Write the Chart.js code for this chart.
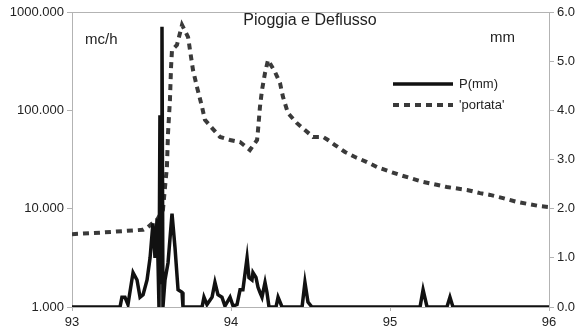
<!DOCTYPE html>
<html>
<head>
<meta charset="utf-8">
<script src="https://cdn.jsdelivr.net/npm/chart.js@4.4.1/dist/chart.umd.min.js"></script>
<style>
  html, body { margin: 0; padding: 0; background: #fff; }
  #wrap { width: 579px; height: 332px; }
</style>
</head>
<body>
<div id="wrap"><canvas id="grafico"></canvas></div>
<script>
'use strict';

// Pioggia (mm) - asse destro
const pioggiaX = [93.000, 93.302, 93.314, 93.333, 93.352, 93.384, 93.409, 93.428, 93.447, 93.472,
  93.491, 93.509, 93.522, 93.535, 93.547, 93.553, 93.560, 93.566, 93.572, 93.585,
  93.604, 93.629, 93.648, 93.667, 93.692, 93.698, 93.818, 93.830, 93.849, 93.881,
  93.899, 93.918, 93.943, 93.962, 93.994, 94.013, 94.038, 94.057, 94.075, 94.101,
  94.113, 94.132, 94.138, 94.157, 94.170, 94.182, 94.195, 94.214, 94.226, 94.239,
  94.283, 94.296, 94.321, 94.447, 94.465, 94.484, 94.509, 95.189, 95.208, 95.233,
  95.358, 95.377, 95.396, 96.000];
const pioggiaMm = [0, 0, 0.2, 0.2, 0.05, 0.7, 0.55, 0.2, 0.25, 0.55,
  1.0, 1.7, 1.0, 1.8, 0.0, 3.9, 0.5, 5.7, 0.0, 0.55,
  0.9, 1.9, 1.2, 0.35, 0.3, 0, 0, 0.2, 0.05, 0.2,
  0.5, 0.25, 0.2, 0.02, 0.2, 0.02, 0.05, 0.35, 0.35, 1.0,
  0.6, 0.55, 0.7, 0.6, 0.4, 0.3, 0.2, 0.5, 0.3, 0,
  0, 0.2, 0, 0, 0.5, 0.1, 0, 0, 0.35, 0,
  0, 0.2, 0, 0];

// Portata (mc/h) - asse sinistro logaritmico
const portataX = [93.000, 93.176, 93.447, 93.478, 93.509, 93.535, 93.572, 93.585, 93.597, 93.604,
  93.616, 93.623, 93.629, 93.660, 93.692, 93.730, 93.742, 93.761, 93.786, 93.818,
  93.836, 93.881, 93.931, 93.994, 94.057, 94.119, 94.164, 94.170, 94.182, 94.195,
  94.214, 94.233, 94.277, 94.308, 94.327, 94.358, 94.415, 94.465, 94.516, 94.579,
  94.610, 94.654, 94.717, 94.780, 94.855, 94.918, 94.987, 95.063, 95.126, 95.208,
  95.270, 95.358, 95.484, 95.566, 95.629, 95.711, 95.799, 95.862, 95.943, 96.000];
const portataMch = [5.5, 5.7, 6.1, 6.5, 7.2, 7.7, 9.7, 16.6, 26.5, 59,
  127, 276, 411, 462, 738, 557, 411, 257, 173, 108,
  80, 66, 53.6, 49.9, 47.6, 39.5, 49.9, 63, 108, 161,
  240, 325, 245, 190, 137, 94, 74, 63, 53.6, 53.6,
  49.9, 44.4, 37.7, 33.5, 29.8, 26.5, 24.2, 22.0, 20.5, 18.7,
  17.8, 16.6, 15.5, 14.4, 13.8, 12.8, 11.7, 11.2, 10.6, 10.4];

const tickSinistra = [1, 10, 100, 1000];
const tickDestra = [0, 1, 2, 3, 4, 5, 6];
const tickX = [93, 94, 95, 96];

const FONT = '"Liberation Sans", Arial, sans-serif';
const GRIGIO = '#b3b3b3';
const TESTO = '#222222';

const punti = (xs, ys) => xs.map((x, i) => ({ x, y: ys[i] }));

// Titolo, unità e legenda disegnati dentro l'area del grafico
const decorazioni = {
  id: 'decorazioni',
  afterDraw(chart) {
    const { ctx, chartArea: a } = chart;
    ctx.save();
    ctx.strokeStyle = GRIGIO;
    ctx.lineWidth = 1;
    ctx.beginPath();
    ctx.moveTo(a.left, a.top + 0.5);
    ctx.lineTo(a.right, a.top + 0.5);
    ctx.stroke();

    ctx.fillStyle = TESTO;
    ctx.textBaseline = 'middle';
    ctx.font = '16px ' + FONT;
    ctx.textAlign = 'center';
    ctx.fillText('Pioggia e Deflusso', 310, 21);
    ctx.font = '15px ' + FONT;
    ctx.textAlign = 'left';
    ctx.fillText('mc/h', 85, 40);
    ctx.fillText('mm', 490, 38);

    ctx.font = '13px ' + FONT;
    chart.data.datasets.forEach((ds, i) => {
      const y = 84 + i * 21;
      ctx.strokeStyle = ds.borderColor;
      ctx.lineWidth = ds.borderWidth;
      ctx.setLineDash(ds.borderDash || []);
      ctx.beginPath();
      ctx.moveTo(393, y);
      ctx.lineTo(453, y);
      ctx.stroke();
      ctx.setLineDash([]);
      ctx.fillStyle = TESTO;
      ctx.fillText(ds.label, 459, y);
    });
    ctx.restore();
  }
};

new Chart(document.getElementById('grafico'), {
  type: 'line',
  data: {
    datasets: [{
      label: 'P(mm)',
      data: punti(pioggiaX, pioggiaMm),
      yAxisID: 'yR',
      borderColor: '#111111',
      borderWidth: 3.5,
      pointRadius: 0,
      tension: 0,
      order: 0
    },
    {
      label: "'portata'",
      data: punti(portataX, portataMch),
      yAxisID: 'yL',
      borderColor: '#3a3a3a',
      borderWidth: 4,
      borderDash: [6, 5],
      pointRadius: 0,
      tension: 0,
      order: 1
    }]
  },
  options: {
    responsive: true,
    maintainAspectRatio: false,
    animation: false,
    layout: { padding: { top: 12, left: 0, right: 0, bottom: 0 } },
    plugins: { legend: { display: false }, tooltip: { enabled: false } },
    scales: {
      x: {
        type: 'linear',
        min: 93,
        max: 96,
        afterBuildTicks: s => { s.ticks = tickX.map(v => ({ value: v })); },
        afterFit: s => { s.height = 25; },
        ticks: { color: TESTO, font: { family: FONT, size: 13 }, padding: 4, callback: v => String(v) },
        grid: { drawOnChartArea: false, color: GRIGIO, tickLength: 4 },
        border: { color: GRIGIO }
      },
      yL: {
        type: 'logarithmic',
        position: 'left',
        min: 1,
        max: 1000,
        afterBuildTicks: s => { s.ticks = tickSinistra.map(v => ({ value: v })); },
        afterFit: s => { s.width = 72; },
        ticks: { color: TESTO, font: { family: FONT, size: 13 }, padding: 3, callback: v => Number(v).toFixed(3) },
        grid: { drawOnChartArea: false, color: GRIGIO, tickLength: 5 },
        border: { color: GRIGIO }
      },
      yR: {
        type: 'linear',
        position: 'right',
        min: 0,
        max: 6,
        afterBuildTicks: s => { s.ticks = tickDestra.map(v => ({ value: v })); },
        afterFit: s => { s.width = 30; },
        ticks: { color: TESTO, font: { family: FONT, size: 13 }, padding: 3, callback: v => Number(v).toFixed(1) },
        grid: { drawOnChartArea: false, color: GRIGIO, tickLength: 5 },
        border: { color: GRIGIO }
      }
    }
  },
  plugins: [decorazioni]
});
</script>
</body>
</html>
